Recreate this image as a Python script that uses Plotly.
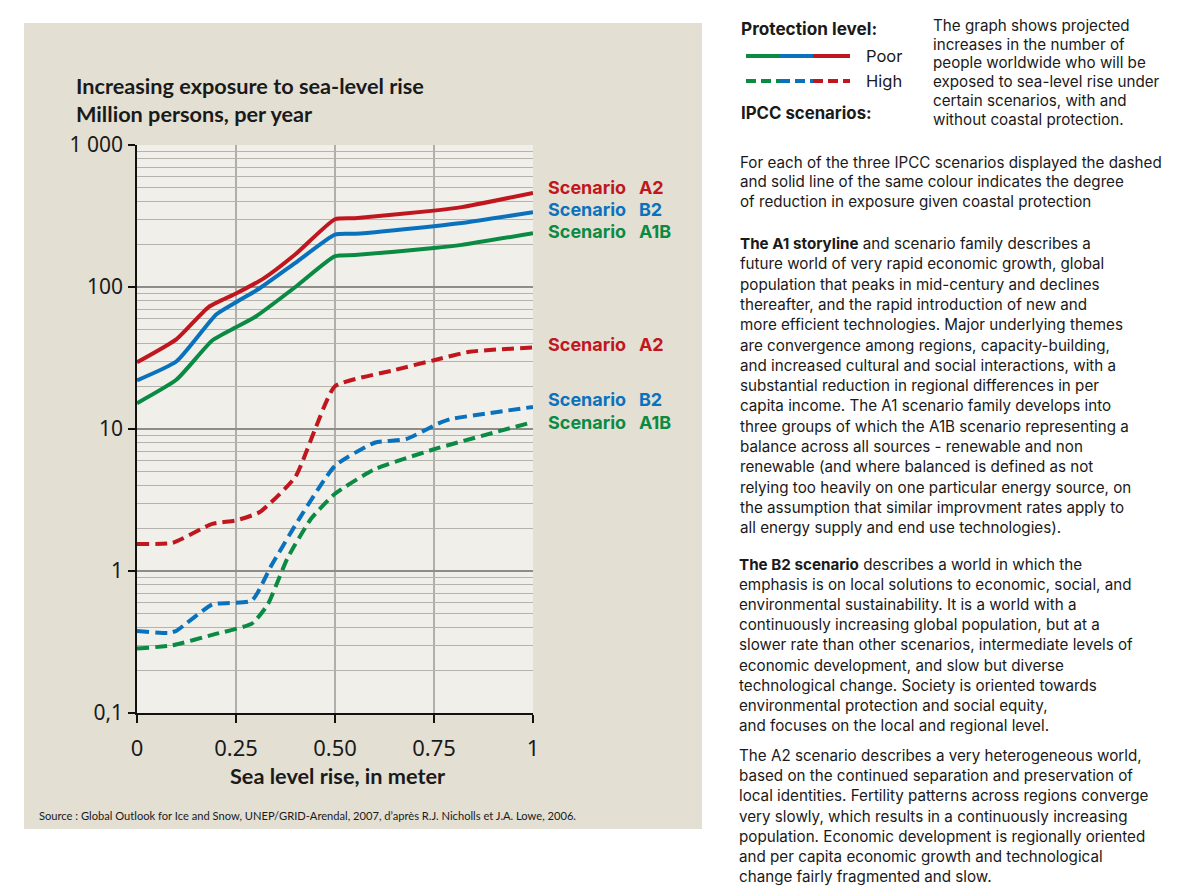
import plotly.graph_objects as go

# ---------------- data ----------------
x_a2_poor = [0, 0.1, 0.18, 0.25, 0.32, 0.4, 0.5, 0.55, 0.75, 0.82, 1.0]
y_a2_poor = [29.5, 43, 72, 90, 115, 170, 300, 305, 345, 365, 460]

x_b2_poor = [0, 0.1, 0.2, 0.25, 0.31, 0.4, 0.5, 0.55, 0.75, 0.82, 1.0]
y_b2_poor = [22, 30, 64, 78, 98, 148, 234, 237, 268, 282, 336]

x_a1b_poor = [0, 0.1, 0.19, 0.25, 0.3, 0.4, 0.5, 0.55, 0.75, 0.82, 1.0]
y_a1b_poor = [15.2, 22.3, 42, 52, 62, 100, 165, 168, 188, 198, 239]

x_a2_high = [0, 0.09, 0.19, 0.25, 0.31, 0.4, 0.45, 0.5, 0.65, 0.75, 0.84, 1.0]
y_a2_high = [1.55, 1.58, 2.15, 2.27, 2.6, 4.6, 10, 20, 26, 30.5, 35, 37.5]

x_b2_high = [0, 0.08, 0.1, 0.19, 0.29, 0.34, 0.41, 0.5, 0.6, 0.68, 0.76, 0.79, 1.0]
y_b2_high = [0.378, 0.366, 0.38, 0.58, 0.62, 1.1, 2.34, 5.5, 8.0, 8.5, 10.9, 11.7, 14.3]

x_a1b_high = [0, 0.09, 0.19, 0.29, 0.33, 0.38, 0.44, 0.5, 0.6, 0.75, 1.0]
y_a1b_high = [0.284, 0.30, 0.355, 0.426, 0.58, 1.23, 2.34, 3.5, 5.2, 7.2, 11.2]

x_tickvals = [0, 0.25, 0.5, 0.75, 1]
x_ticktext = ["0", "0.25", "0.50", "0.75", "1"]
y_tickvals = [0.1, 1, 10, 100, 1000]
y_ticktext = ["0,1", "1", "10", "100", "1 000"]

scenario_labels = ["Scenario\u00a0\u00a0 A2", "Scenario\u00a0\u00a0 B2", "Scenario\u00a0\u00a0 A1B"]

RED = "#c0171f"
BLUE = "#0a72bd"
GREEN = "#0a8a43"

# ---------------- layout geometry ----------------
W, H = 1181, 889
ML, MT = 137, 145
PL_R, PL_B = 533, 713
MR, MB = W - PL_R, H - PL_B
PW, PH = PL_R - ML, PL_B - MT


def px(xp):
    return (xp - ML) / PW


def py(yp):
    return (PL_B - yp) / PH


BODY = "Inter, Noto Sans, sans-serif"
TICK = "Noto Sans, Open Sans, sans-serif"
COND = "Lato, Roboto, sans-serif"

fig = go.Figure()

series = [
    (x_a2_poor, y_a2_poor, RED, "solid"),
    (x_b2_poor, y_b2_poor, BLUE, "solid"),
    (x_a1b_poor, y_a1b_poor, GREEN, "solid"),
    (x_a2_high, y_a2_high, RED, "12px,6px"),
    (x_b2_high, y_b2_high, BLUE, "12px,6px"),
    (x_a1b_high, y_a1b_high, GREEN, "12px,6px"),
]
for xs, ys, col, dash in series:
    fig.add_trace(go.Scatter(x=xs, y=ys, mode="lines",
                             line=dict(color=col, width=4, dash=dash,
                                       shape="spline", smoothing=0.5),
                             showlegend=False, hoverinfo="skip", cliponaxis=False))

shapes = []
# beige panel
shapes.append(dict(type="rect", xref="paper", yref="paper", layer="below",
                   x0=px(24), x1=px(702), y0=py(829), y1=py(23),
                   fillcolor="#e3dfd3", line=dict(width=0)))
# plot area background
shapes.append(dict(type="rect", xref="paper", yref="paper", layer="below",
                   x0=0, x1=1, y0=0, y1=1,
                   fillcolor="#f0efea", line=dict(width=0)))
# vertical grid lines
for xv in x_tickvals[1:-1]:
    shapes.append(dict(type="line", xref="x", yref="paper", layer="below",
                       x0=xv, x1=xv, y0=0, y1=1,
                       line=dict(color="#9b9a96", width=1.5)))

# legend lines (protection level)
leg_cols = [GREEN, BLUE, RED]
seg = [746, 780, 813, 850]
for i, c in enumerate(leg_cols):
    shapes.append(dict(type="line", xref="paper", yref="paper",
                       x0=px(seg[i]), x1=px(seg[i + 1]), y0=py(56), y1=py(56),
                       line=dict(color=c, width=4)))
    shapes.append(dict(type="line", xref="paper", yref="paper",
                       x0=px(seg[i]), x1=px(seg[i + 1]), y0=py(81), y1=py(81),
                       line=dict(color=c, width=4, dash="10px,5px")))

annotations = []


def txt(x, y, text, size, family=BODY, color="#1a1a1a", xanchor="left"):
    annotations.append(dict(x=px(x), y=py(y), xref="paper", yref="paper",
                            text=text, showarrow=False, xanchor=xanchor,
                            yanchor="middle", borderpad=0, align="left",
                            font=dict(size=size, family=family, color=color)))


def block(x, y_first, pitch, lines, size, family=BODY, colors=None):
    """Multi-line text in one annotation; line pitch = 1.3 * base font size."""
    base = pitch / 1.3
    parts = []
    for i, l in enumerate(lines):
        style = "font-size:%.2fpx" % size
        if colors is not None:
            style += ";color:%s" % colors[i]
        parts.append('<span style="%s">%s</span>' % (style, l))
    y_mid = y_first + pitch * (len(lines) - 1) / 2.0
    txt(x, y_mid, "<br>".join(parts), base, family)


# chart titles
txt(75, 86, "<b>Increasing exposure to sea-level rise</b>", 21.7, COND)
txt(75, 114, "<b>Million persons, per year</b>", 21.7, COND)
txt(338, 776, "<b>Sea level rise, in meter</b>", 21.7, COND, xanchor="center")
txt(38, 815, "Source : Global Outlook for Ice and Snow, UNEP/GRID-Arendal, 2007, d’après R.J. Nicholls et J.A. Lowe, 2006.",
    11.15, COND)

# scenario labels
lab_c = [RED, BLUE, GREEN]
labs = ["<b>" + s + "</b>" for s in scenario_labels]
block(547, 187, 22.2, labs, 18, BODY, lab_c)
txt(547, 344, labs[0], 18, BODY, RED)
block(547, 399, 23, labs[1:], 18, BODY, lab_c[1:])

# legend text
txt(740, 28, "<b>Protection level:</b>", 17.2)
txt(865, 56, "Poor", 16.5)
txt(865, 81, "High", 16.5)
txt(740, 113, "<b>IPCC scenarios:</b>", 16.8)

block1 = ["The graph shows projected", "increases in the number of",
          "people worldwide who will be", "exposed to sea-level rise under",
          "certain scenarios, with and", "without coastal protection."]
block(932, 26, 18.7, block1, 15.2)

block2 = ["For each of the three IPCC scenarios displayed the dashed",
          "and solid line of the same colour indicates the degree",
          "of reduction in exposure given coastal protection"]
block(739, 163, 19.3, block2, 15.2)

FS = 15.2
block_a1 = ["<b>The A1 storyline</b> and scenario family describes a",
            "future world of very rapid economic growth, global",
            "population that peaks in mid-century and declines",
            "thereafter, and the rapid introduction of new and",
            "more efficient technologies. Major underlying themes",
            "are convergence among regions, capacity-building,",
            "and increased cultural and social interactions, with a",
            "substantial reduction in regional differences in per",
            "capita income. The A1 scenario family develops into",
            "three groups of which the A1B scenario representing a",
            "balance across all sources - renewable and non",
            "renewable (and where balanced is defined as not",
            "relying too heavily on one particular energy source, on",
            "the assumption that similar improvment rates apply to",
            "all energy supply and end use technologies)."]
block(739, 243.5, 20.3, block_a1, FS)

block_b2 = ["<b>The B2 scenario</b> describes a world in which the",
            "emphasis is on local solutions to economic, social, and",
            "environmental sustainability. It is a world with a",
            "continuously increasing global population, but at a",
            "slower rate than other scenarios, intermediate levels of",
            "economic development, and slow but diverse",
            "technological change. Society is oriented towards",
            "environmental protection and social equity,",
            "and focuses on the local and regional level."]
block(738, 564.3, 20.1, block_b2, FS)

block_a2 = ["The A2 scenario describes a very heterogeneous world,",
            "based on the continued separation and preservation of",
            "local identities. Fertility patterns across regions converge",
            "very slowly, which results in a continuously increasing",
            "population. Economic development is regionally oriented",
            "and per capita economic growth and technological",
            "change fairly fragmented and slow."]
block(738, 755, 20.2, block_a2, FS)

fig.update_layout(
    width=W, height=H,
    margin=dict(l=ML, r=MR, t=MT, b=MB, pad=0),
    paper_bgcolor="white", plot_bgcolor="rgba(0,0,0,0)",
    shapes=shapes, annotations=annotations,
    xaxis=dict(range=[0, 1], tickvals=x_tickvals, ticktext=x_ticktext,
               showgrid=False, zeroline=False, showline=True,
               linecolor="#111", linewidth=1.5, ticks="outside", ticklen=8,
               tickcolor="#111", tickwidth=1.5, ticklabelstandoff=7,
               tickfont=dict(size=22, family=TICK, color="#1a1a1a"),
               fixedrange=True),
    yaxis=dict(type="log", range=[-1, 3], tickvals=y_tickvals, ticktext=y_ticktext,
               showgrid=True, gridcolor="#8e8d89", gridwidth=2,
               zeroline=False, showline=True, linecolor="#111", linewidth=1.5,
               ticks="outside", ticklen=7, tickcolor="#111", tickwidth=1.5,
               ticklabelstandoff=1,
               tickfont=dict(size=21, family=TICK, color="#1a1a1a"),
               minor=dict(dtick="D1", showgrid=True, gridcolor="#b4b3ae",
                          gridwidth=1.3, ticks=""),
               fixedrange=True),
)

fig.write_html("out.html", post_script="document.body.style.margin='0';",
               config={"displayModeBar": False})
